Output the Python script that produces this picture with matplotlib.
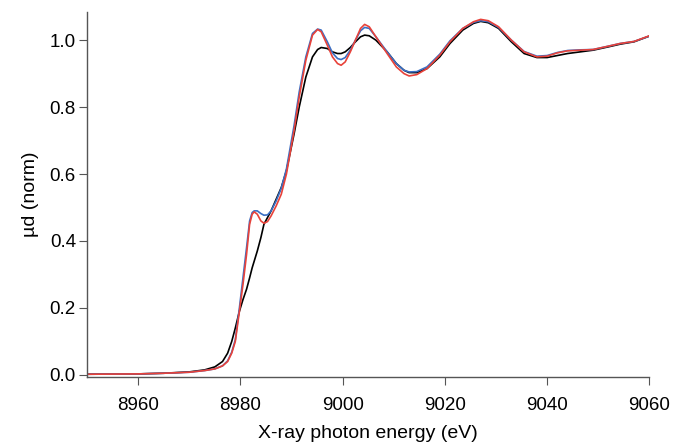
import numpy as np
import matplotlib.pyplot as plt

plt.rcParams['font.family'] = ['Liberation Sans', 'DejaVu Sans']

# energia (eV) e absorção normalizada
energia = [8950, 8960, 8965, 8970, 8973, 8975, 8976.5, 8977.5, 8978.3, 8979, 8979.8,
           8980.5, 8981.2, 8981.8, 8982.3, 8982.7, 8983.3, 8984, 8984.6, 8985.3, 8986,
           8987, 8988, 8989, 8990.5, 8991.5, 8992.8, 8994.1, 8995.1, 8995.8, 8997,
           8998, 8999, 8999.7, 9000.5, 9001.5, 9002.5, 9003.5, 9004.3, 9005.2, 9006.5,
           9008.7, 9010.5, 9012, 9013, 9014.5, 9016.5, 9019, 9021, 9023.5, 9025.6,
           9027, 9028.5, 9030.5, 9033, 9035.5, 9038, 9040, 9042, 9044, 9046.5, 9049,
           9052, 9054.3, 9057, 9060]

mu_preto = [0.002, 0.003, 0.005, 0.009, 0.015, 0.024, 0.040, 0.065, 0.100, 0.140, 0.190,
            0.225, 0.256, 0.290, 0.320, 0.340, 0.370, 0.410, 0.450, 0.470, 0.490,
            0.525, 0.560, 0.610, 0.720, 0.800, 0.890, 0.950, 0.972, 0.978, 0.975,
            0.965, 0.960, 0.960, 0.965, 0.978, 0.995, 1.010, 1.015, 1.013, 1.000,
            0.965, 0.930, 0.910, 0.903, 0.903, 0.915, 0.950, 0.990, 1.030, 1.050,
            1.056, 1.052, 1.035, 0.995, 0.960, 0.948, 0.948, 0.954, 0.960, 0.965, 0.970,
            0.980, 0.988, 0.995, 1.012]

mu_azul = [0.002, 0.003, 0.005, 0.008, 0.013, 0.018, 0.027, 0.042, 0.068, 0.105, 0.200,
           0.290, 0.380, 0.460, 0.485, 0.490, 0.490, 0.482, 0.477, 0.478, 0.490,
           0.520, 0.558, 0.615, 0.745, 0.845, 0.950, 1.020, 1.033, 1.030, 0.995,
           0.962, 0.945, 0.942, 0.948, 0.970, 1.000, 1.028, 1.038, 1.035, 1.010,
           0.965, 0.930, 0.910, 0.905, 0.906, 0.920, 0.958, 0.998, 1.035, 1.053,
           1.058, 1.055, 1.038, 1.000, 0.966, 0.952, 0.954, 0.963, 0.969, 0.971, 0.972,
           0.982, 0.990, 0.996, 1.012]

mu_vermelho = [0.002, 0.003, 0.005, 0.008, 0.013, 0.018, 0.027, 0.040, 0.065, 0.100, 0.190,
               0.270, 0.360, 0.450, 0.480, 0.487, 0.480, 0.460, 0.453, 0.458, 0.475,
               0.505, 0.540, 0.600, 0.730, 0.830, 0.940, 1.015, 1.032, 1.025, 0.985,
               0.950, 0.930, 0.925, 0.935, 0.965, 1.000, 1.035, 1.047, 1.040, 1.010,
               0.960, 0.920, 0.900, 0.893, 0.897, 0.915, 0.955, 0.995, 1.035, 1.055,
               1.062, 1.058, 1.040, 1.000, 0.965, 0.950, 0.952, 0.962, 0.968, 0.970, 0.972,
               0.982, 0.990, 0.996, 1.013]

fig = plt.figure(figsize=(6.75, 4.45), dpi=100)
ax = fig.add_axes([0.129, 0.153, 0.833, 0.82])

ax.plot(energia, mu_preto, color='black', lw=1.2)
ax.plot(energia, mu_azul, color='#3b6fc4', lw=1.2)
ax.plot(energia, mu_vermelho, color='#e8423a', lw=1.2)

ax.set_xlim(8950, 9060)
ax.set_ylim(-0.006, 1.084)
ax.set_xticks([8960, 8980, 9000, 9020, 9040, 9060])
ax.set_yticks([0.0, 0.2, 0.4, 0.6, 0.8, 1.0])
ax.set_yticklabels(['0.0', '0.2', '0.4', '0.6', '0.8', '1.0'])

for lado in ['top', 'right']:
    ax.spines[lado].set_visible(False)
for lado in ['left', 'bottom']:
    ax.spines[lado].set_color('#555555')
    ax.spines[lado].set_linewidth(1.0)

ax.tick_params(axis='x', length=6, color='#555555', labelsize=13.5, pad=8.5)
ax.tick_params(axis='y', length=6, color='#555555', labelsize=13.5, pad=2)

ax.set_xlabel('X-ray photon energy (eV)', fontsize=14, labelpad=8)
ax.set_ylabel('µd (norm)', fontsize=14, labelpad=8)

fig.savefig('out.png', dpi=100)
